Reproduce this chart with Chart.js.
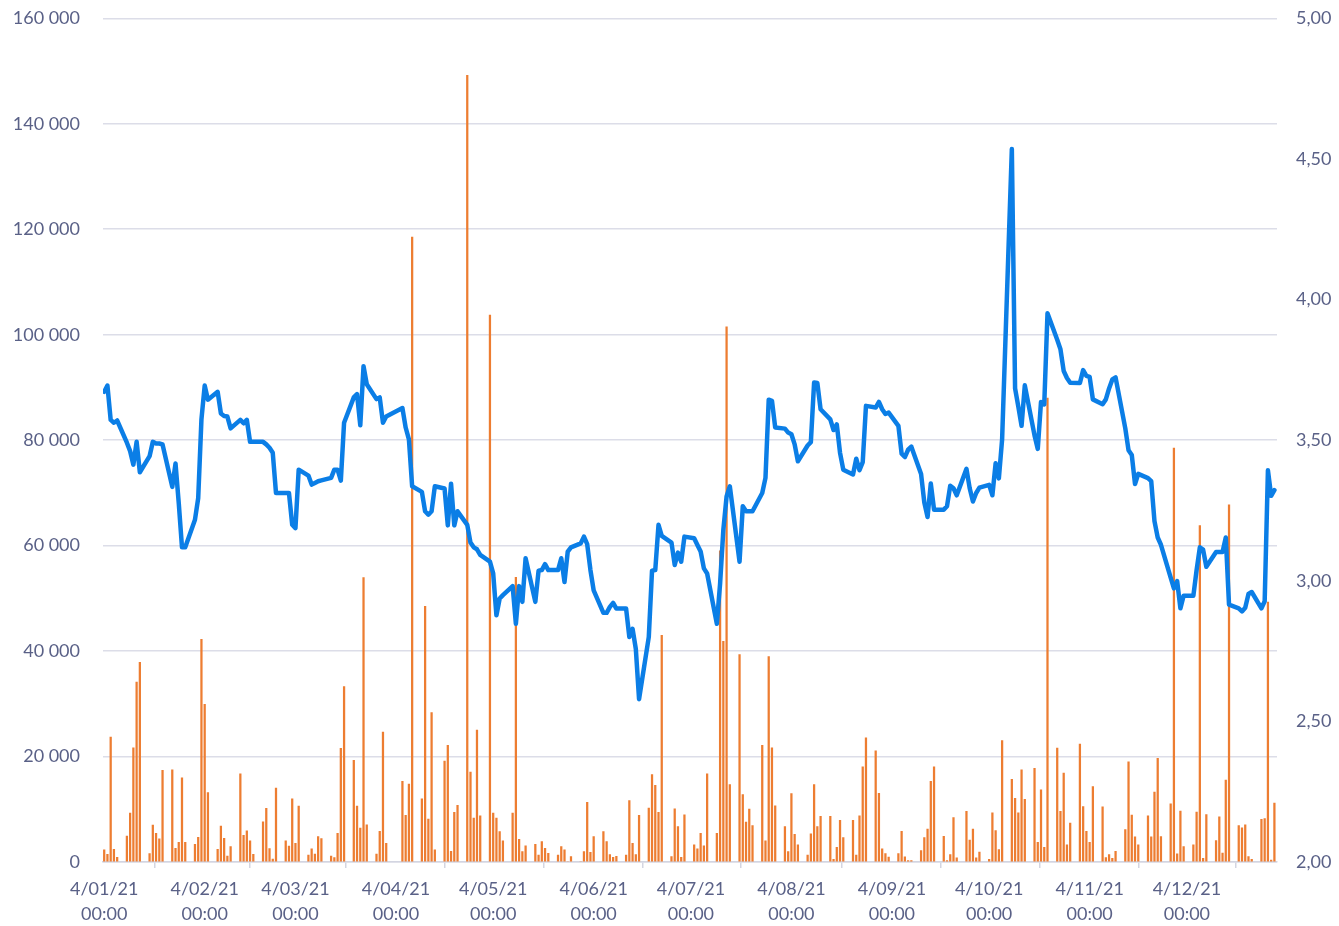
<!DOCTYPE html>
<html>
<head>
<meta charset="utf-8">
<script src="https://cdn.jsdelivr.net/npm/chart.js@4.4.1/dist/chart.umd.min.js"></script>
<style>
  html, body { margin: 0; padding: 0; background: #ffffff; }
  #wrap { width: 1339px; height: 926px; overflow: hidden; position: relative; }
  #grafico { position: absolute; left: 0; top: -17px; }
</style>
</head>
<body>
<div id="wrap"><canvas id="grafico" width="1339" height="943"></canvas></div>
<script>
// trading days 2021 (weekdays, exchange closed on these)
const START_DATE = '2021-01-04';
const END_DATE = '2021-12-31';
const HOLIDAYS = ['2021-04-02', '2021-04-05'];

const TICK_LABELS = ['4/01/21 00:00', '4/02/21 00:00', '4/03/21 00:00', '4/04/21 00:00',
    '4/05/21 00:00', '4/06/21 00:00', '4/07/21 00:00', '4/08/21 00:00',
    '4/09/21 00:00', '4/10/21 00:00', '4/11/21 00:00', '4/12/21 00:00'];

// closing price, one value per trading day (right axis)
const prices = [
    3.672, 3.694, 3.572, 3.562, 3.570, 3.491, 3.461, 3.413, 3.494, 3.386,
    3.443, 3.494, 3.488, 3.488, 3.485, 3.334, 3.417, 3.276, 3.119, 3.119,
    3.217, 3.294, 3.574, 3.694, 3.644, 3.672, 3.595, 3.586, 3.584, 3.542,
    3.572, 3.560, 3.572, 3.494, 3.494, 3.494, 3.485, 3.473, 3.455, 3.312,
    3.312, 3.312, 3.199, 3.187, 3.395, 3.374, 3.342, 3.348, 3.354, 3.357,
    3.366, 3.395, 3.395, 3.356, 3.562, 3.652, 3.664, 3.553, 3.763, 3.699,
    3.646, 3.652, 3.562, 3.584,
    3.614, 3.545, 3.503, 3.336, 3.316, 3.247, 3.235, 3.247, 3.336,
    3.328, 3.197, 3.345, 3.197, 3.247, 3.199, 3.136, 3.119, 3.112, 3.092,
    3.068, 3.026, 2.877, 2.937, 2.949, 2.981, 2.847, 2.981, 2.925, 3.080,
    2.925, 3.036, 3.038, 3.059, 3.038, 3.038, 3.080, 2.996, 3.104, 3.119,
    3.133, 3.157, 3.130, 3.038, 2.966, 2.886, 2.886, 2.907, 2.921, 2.901,
    2.901, 2.800, 2.829, 2.758, 2.579, 2.800, 3.036, 3.038, 3.199, 3.160,
    3.136, 3.056, 3.100, 3.068, 3.157,
    3.151, 3.127, 3.104, 3.044, 3.026, 2.847, 2.990, 3.181, 3.300, 3.336,
    3.068, 3.265, 3.247, 3.247, 3.247, 3.312, 3.366, 3.644, 3.640, 3.545,
    3.541, 3.527, 3.521, 3.485, 3.425, 3.481, 3.493, 3.705, 3.703, 3.610,
    3.574, 3.536, 3.556, 3.455, 3.395, 3.378, 3.434, 3.393, 3.422, 3.622,
    3.616, 3.636, 3.610, 3.593, 3.598, 3.551, 3.452, 3.440, 3.466, 3.477,
    3.380, 3.278, 3.227, 3.346, 3.253, 3.253, 3.265, 3.338, 3.329, 3.304,
    3.398, 3.329, 3.282, 3.312, 3.331,
    3.341, 3.304, 3.418, 3.364, 3.503, 4.535, 3.684, 3.619, 3.551, 3.695,
    3.517, 3.469, 3.636, 3.627, 3.951, 3.857, 3.823, 3.746, 3.721, 3.704,
    3.703, 3.749, 3.729, 3.725, 3.645, 3.628, 3.645, 3.684, 3.716, 3.723,
    3.542, 3.464, 3.447, 3.344, 3.380, 3.365, 3.354, 3.212, 3.154, 3.128,
    3.011, 2.973, 2.999, 2.902, 2.947, 2.947, 3.038, 3.119, 3.111, 3.050,
    3.102, 3.102, 3.102, 3.154, 2.915, 2.902, 2.891, 2.904, 2.953, 2.960,
    2.902, 2.927, 3.393, 3.302, 3.322
];

// traded volume, one value per trading day (left axis)
const volumes = [
    2290, 1470, 23700, 2400, 900, 4900, 9280, 21670, 34100, 37870,
    1590, 7000, 5460, 4380, 17400, 17470, 2600, 3750, 15950, 3750,
    3370, 4700, 42250, 29900, 13150, 2400, 6800, 4500, 1140, 2920,
    16700, 5080, 5900, 4000, 1470, 7620, 10160, 2540, 570, 14000,
    4000, 3000, 12000, 3560, 10600, 1330, 2480, 1520, 4830, 4450,
    1140, 850, 5460, 21540, 33290, 19300, 10600, 6420, 53940, 7050,
    1520, 5840, 24650, 3560,
    15300, 8830, 14800, 118500, 12000, 48470, 8130, 28340, 2290,
    19120, 22110, 2030, 9400, 10730, 149200, 17030, 8320, 25030, 8770,
    103700, 9280, 8320, 5780, 4000, 9280, 54000, 4320, 1970, 3050,
    3370, 1330, 3870, 2600, 1650, 1330, 2920, 2290, 0, 1020,
    0, 1970, 11310, 1840, 4830, 5780, 3870, 1400, 870, 1080,
    1330, 11630, 3560, 1400, 8830, 10230, 16580, 14550, 9400, 43000,
    1020, 10100, 6730, 870, 8960,
    3240, 2480, 5460, 3050, 16710, 5460, 59000, 41870, 101500, 14680,
    39330, 12770, 7560, 10040, 6920, 22110, 4000, 38940, 21670, 10670,
    6730, 1970, 12960, 5270, 3240, 1330, 5340, 14680, 6730, 8640,
    8640, 500, 2800, 7880, 4640, 7880, 1330, 8770, 18040, 23570,
    21100, 13000, 2500, 1600, 950, 1620, 5800, 990, 270, 270,
    2170, 4610, 6250, 15320, 18050, 4880, 270, 1430, 8420, 800,
    9600, 4170, 6250, 800, 1890,
    530, 9340, 5980, 2340, 23040, 15690, 12060, 9340, 17500, 11870,
    17760, 3720, 13690, 2800, 88000, 21600, 9600, 16870, 3260, 7370,
    22370, 10500, 5810, 3740, 14290, 10480, 840, 1390, 700, 2020,
    6160, 18980, 8920, 4780, 3260, 8770, 4780, 13250, 19670, 4840,
    11050, 78500, 1540, 9660, 2920, 3260, 9470, 63780, 700, 8980,
    4080, 8560, 1680, 15530, 67720, 6920, 6500, 7050, 1050, 500,
    8080, 8220, 49310, 360, 11190
];

const DIA = 86400000;
const T0 = Date.parse(START_DATE);

function diasDesdeInicio(iso) {
    return (Date.parse(iso) - T0) / DIA;
}

function diasUteis() {
    const lista = [];
    for (let t = T0; t <= Date.parse(END_DATE); t += DIA) {
        const d = new Date(t);
        const dow = d.getUTCDay();
        if (dow === 0 || dow === 6) continue;
        const iso = d.toISOString().slice(0, 10);
        if (HOLIDAYS.includes(iso)) continue;
        lista.push(iso);
    }
    return lista;
}

function rotuloParaDia(rotulo) {
    const [d, m, a] = rotulo.split(' ')[0].split('/');
    const iso = `20${a}-${m}-${d.padStart(2, '0')}`;
    return diasDesdeInicio(iso);
}

function milhares(v) {
    return String(v).replace(/\B(?=(\d{3})+(?!\d))/g, ' ');
}

const datas = diasUteis();
const xs = datas.map(diasDesdeInicio);
const tickDias = TICK_LABELS.map(rotuloParaDia);

const corTexto = '#5a6187';
const fonte = { family: 'Lato', size: 18, lineHeight: 1.37 };

function criarGrafico(canvasElement) {
    const ctx = canvasElement.getContext('2d');
    return new Chart(ctx, {
        type: 'bar',
        data: {
            datasets: [{
                type: 'line',
                label: 'Cours',
                data: xs.map((x, i) => ({ x: x, y: prices[i] })),
                yAxisID: 'y1',
                borderColor: '#0b7ee6',
                borderWidth: 4.5,
                borderJoinStyle: 'round',
                borderCapStyle: 'round',
                pointRadius: 0,
                tension: 0,
                order: 1
            }, {
                type: 'bar',
                label: 'Volume',
                data: xs.map((x, i) => ({ x: x, y: volumes[i] })),
                yAxisID: 'y',
                backgroundColor: '#ed7d31',
                barThickness: 1.6,
                order: 2
            }]
        },
        options: {
            responsive: false,
            animation: false,
            devicePixelRatio: 1,
            layout: { padding: { top: 0, left: 0, right: 0, bottom: 0 } },
            plugins: { legend: { display: false }, tooltip: { enabled: false } },
            scales: {
                x: {
                    type: 'linear',
                    offset: false,
                    min: -0.37,
                    max: 361.8,
                    afterBuildTicks: s => { s.ticks = tickDias.map(v => ({ value: v })); },
                    afterFit: s => { s.height = 64; },
                    ticks: {
                        autoSkip: false,
                        maxRotation: 0,
                        padding: 9,
                        color: corTexto,
                        font: fonte,
                        callback: (v, i) => TICK_LABELS[i].split(' ')
                    },
                    grid: { drawOnChartArea: false, drawTicks: true, tickLength: 6, color: '#d3d5e1', lineWidth: 1.5 },
                    border: { display: true, color: '#d3d5e1', width: 1.5 }
                },
                y: {
                    position: 'left',
                    min: 0,
                    max: 160000,
                    afterFit: s => { s.width = 103; },
                    ticks: { stepSize: 20000, padding: 23, color: corTexto, font: fonte, callback: v => milhares(v) },
                    grid: { color: '#dcdde8', lineWidth: 1.5, drawTicks: false },
                    border: { display: false }
                },
                y1: {
                    position: 'right',
                    min: 2,
                    max: 5,
                    afterFit: s => { s.width = 62; },
                    ticks: { stepSize: 0.5, padding: 19, color: corTexto, font: fonte, callback: v => v.toFixed(2).replace('.', ',') },
                    grid: { display: false, drawTicks: false },
                    border: { display: false }
                }
            }
        }
    });
}

criarGrafico(document.getElementById('grafico'));
</script>
</body>
</html>
